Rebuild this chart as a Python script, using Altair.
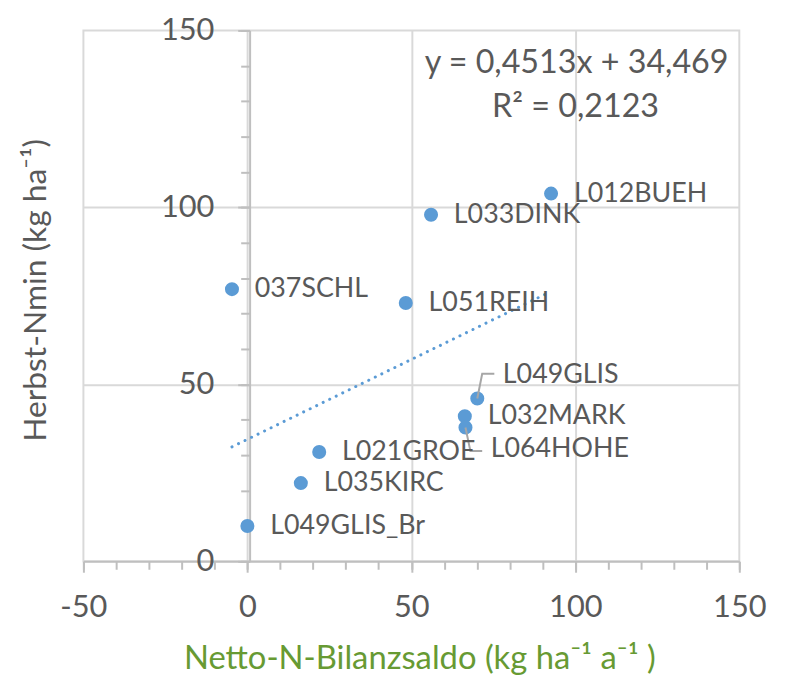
import altair as alt
import pandas as pd

# ---------------- data ----------------
names = ["L012BUEH", "L033DINK", "037SCHL", "L051REIH", "L049GLIS",
         "L032MARK", "L064HOHE", "L021GROE", "L035KIRC", "L049GLIS_Br"]
bilanz = [92.6, 56.0, -4.7, 48.3, 70.1, 66.3, 66.5, 21.9, 16.3, 0.0]
nmin = [103.9, 97.9, 76.9, 73.0, 46.0, 41.0, 37.8, 30.9, 22.1, 10.0]

slope = 0.4513
intercept = 34.469
eq_lines = ["y = 0,4513x + 34,469", "R² = 0,2123"]

x_ticks = [-50, 0, 50, 100, 150]
y_ticks = [0, 50, 100, 150]
x_minor = list(range(-50, 151, 10))
y_minor = list(range(0, 151, 10))

x_title = "Netto-N-Bilanzsaldo (kg ha⁻¹ a⁻¹ )"
y_title = "Herbst-Nmin (kg ha⁻¹)"

# labels that sit away from their point, with a leader line (data units)
leader_label_pos = {"L049GLIS": (77.9, 52.7), "L064HOHE": (74.2, 31.7)}
leader_paths = {"L049GLIS": [(71.6, 53.0), (75.3, 53.0)],
                "L064HOHE": [(68.0, 31.2), (71.6, 31.2)]}

# ---------------- tables ----------------
df = pd.DataFrame({"name": names, "x": bilanz, "y": nmin})
df_plain = df[~df["name"].isin(leader_label_pos.keys())]
df_lead_lbl = pd.DataFrame({
    "name": list(leader_label_pos.keys()),
    "x": [v[0] for v in leader_label_pos.values()],
    "y": [v[1] for v in leader_label_pos.values()],
})
rows = []
for n, path in leader_paths.items():
    px = df.loc[df["name"] == n, "x"].iloc[0]
    py = df.loc[df["name"] == n, "y"].iloc[0]
    pts = [(px, py)] + path
    for i, (a, b) in enumerate(pts):
        rows.append({"name": n, "x": a, "y": b, "o": i})
df_leader = pd.DataFrame(rows)

xmin, xmax = min(bilanz), max(bilanz)
df_trend = pd.DataFrame({"x": [xmin, xmax],
                         "y": [intercept + slope * xmin, intercept + slope * xmax]})

# ---------------- styling ----------------
FONT = "Lato"
TXT = "#595959"
AX = "#BFBFBF"
GRID = "#D9D9D9"
BLUE = "#5B9BD5"
GREEN = "#679A33"
Y_OFF = -167.5  # y axis crosses at x = 0
PLAIN_NUM = "'' + datum.value"

xs = alt.Scale(domain=[-50, 150], nice=False, zero=False)
ys = alt.Scale(domain=[0, 150], nice=False, zero=False)


def layer_axes(xaxis, yaxis):
    return alt.Chart(df).mark_circle(opacity=0).encode(
        x=alt.X("x:Q", scale=xs, axis=xaxis),
        y=alt.Y("y:Q", scale=ys, axis=yaxis),
    )


grid_layer = layer_axes(
    alt.Axis(orient="bottom", values=[0, 50, 100], grid=True, gridColor=GRID,
             gridWidth=2, domain=False, ticks=False, labels=False, title=None),
    alt.Axis(orient="left", values=[50, 100], grid=True, gridColor=GRID,
             gridWidth=2, domain=False, ticks=False, labels=False, title=None),
)

x_minor_layer = layer_axes(
    alt.Axis(orient="bottom", values=x_minor, grid=False, domain=False,
             ticks=True, tickSize=8, tickWidth=2, tickColor=AX,
             labels=False, title=None),
    None,
)

x_main_layer = layer_axes(
    alt.Axis(orient="bottom", values=x_ticks, grid=False, domain=True,
             domainColor=AX, domainWidth=2, ticks=True, tickSize=11,
             tickWidth=2, tickColor=AX, labels=True, labelFont=FONT,
             labelFontSize=31, labelColor=TXT, labelPadding=21,
             labelExpr=PLAIN_NUM,
             labelOverlap=False, labelFlush=False, title=None),
    None,
)

y_minor_layer = layer_axes(
    None,
    alt.Axis(orient="left", offset=Y_OFF, values=y_minor, grid=False,
             domain=False, ticks=True, tickSize=9, tickWidth=2,
             tickColor=AX, labels=False, title=None),
)

y_main_layer = layer_axes(
    None,
    alt.Axis(orient="left", offset=Y_OFF, values=y_ticks, grid=False,
             domain=True, domainColor=AX, domainWidth=2, ticks=True,
             tickSize=12, tickWidth=2, tickColor=AX, labels=True,
             labelFont=FONT, labelFontSize=31, labelColor=TXT,
             labelPadding=24, labelExpr=PLAIN_NUM,
             labelOverlap=False, labelFlush=False, title=None),
)

trend = alt.Chart(df_trend).mark_line(
    color=BLUE, strokeWidth=3, strokeDash=[0.1, 7.2], strokeCap="round"
).encode(
    x=alt.X("x:Q", scale=xs, axis=None),
    y=alt.Y("y:Q", scale=ys, axis=None),
)

points = alt.Chart(df).mark_circle(size=200, color=BLUE, opacity=1).encode(
    x=alt.X("x:Q", scale=xs, axis=None),
    y=alt.Y("y:Q", scale=ys, axis=None),
)

leader = alt.Chart(df_leader).mark_line(color="#A6A6A6", strokeWidth=2).encode(
    x=alt.X("x:Q", scale=xs, axis=None),
    y=alt.Y("y:Q", scale=ys, axis=None),
    detail="name:N",
    order="o:Q",
)

labels_plain = alt.Chart(df_plain).mark_text(
    align="left", baseline="middle", dx=23, font=FONT, fontSize=27, color=TXT
).encode(
    x=alt.X("x:Q", scale=xs, axis=None),
    y=alt.Y("y:Q", scale=ys, axis=None),
    text="name:N",
)

labels_lead = alt.Chart(df_lead_lbl).mark_text(
    align="left", baseline="middle", font=FONT, fontSize=27, color=TXT
).encode(
    x=alt.X("x:Q", scale=xs, axis=None),
    y=alt.Y("y:Q", scale=ys, axis=None),
    text="name:N",
)

eq1 = alt.Chart(pd.DataFrame({"t": [eq_lines[0]]})).mark_text(
    align="center", baseline="middle", font=FONT, fontSize=32.5, color=TXT
).encode(text="t:N", x=alt.value(497), y=alt.value(33))

eq2 = alt.Chart(pd.DataFrame({"t": [eq_lines[1]]})).mark_text(
    align="center", baseline="middle", font=FONT, fontSize=32.5, color=TXT
).encode(text="t:N", x=alt.value(496), y=alt.value(77))

xt = alt.Chart(pd.DataFrame({"t": [x_title]})).mark_text(
    align="center", baseline="middle", font=FONT, fontSize=33, color=GREEN
).encode(text="t:N", x=alt.value(339), y=alt.value(634))

yt = alt.Chart(pd.DataFrame({"t": [y_title]})).mark_text(
    align="center", baseline="middle", font=FONT, fontSize=32, color=TXT,
    angle=270
).encode(text="t:N", x=alt.value(-48), y=alt.value(262))

chart = alt.layer(
    grid_layer, x_minor_layer, x_main_layer, y_minor_layer, y_main_layer,
    trend, points, leader, labels_plain, labels_lead, eq1, eq2, xt, yt,
).resolve_axis(
    x="independent", y="independent"
).properties(
    width=661, height=535,
    padding={"left": 76, "top": 20, "right": 40, "bottom": 118},
    autosize=alt.AutoSizeParams(type="none"),
    background="white",
).configure_view(stroke=GRID, strokeWidth=2)

chart.save("out.html", embed_options={"renderer": "svg", "actions": False})
